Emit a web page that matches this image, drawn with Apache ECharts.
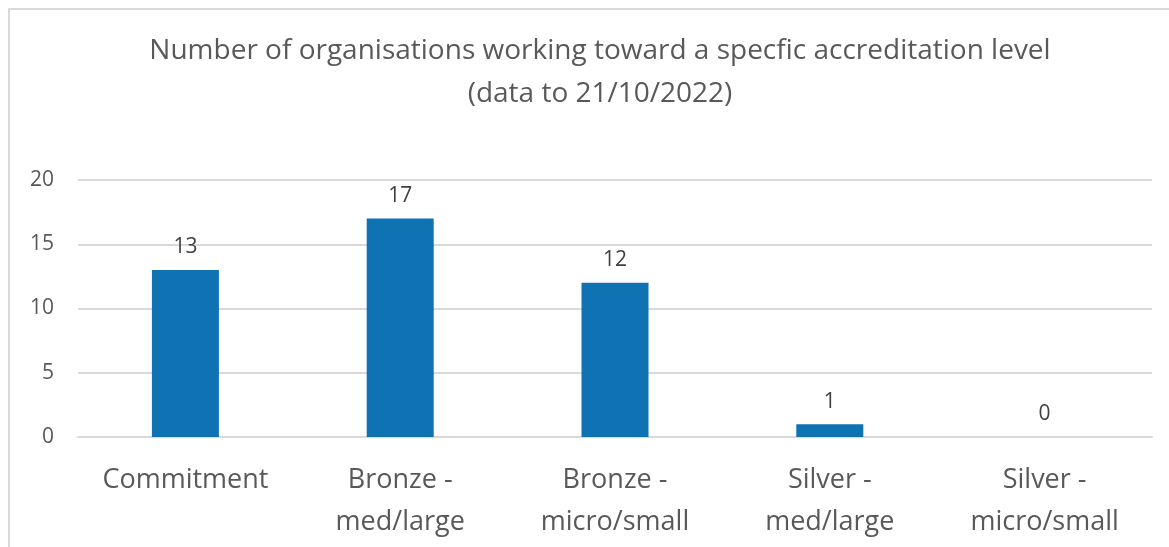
<!DOCTYPE html>
<html>
<head>
<meta charset="utf-8">
<script src="https://cdn.jsdelivr.net/npm/echarts@6/dist/echarts.min.js"></script>
<style>
  html, body { margin: 0; padding: 0; background: #fff; }
  #chart { width: 1169px; height: 547px; }
</style>
</head>
<body>
<div id="chart"></div>
<script>
var categories = ['Commitment', 'Bronze -\nmed/large', 'Bronze -\nmicro/small', 'Silver -\nmed/large', 'Silver -\nmicro/small'];
var counts = [13, 17, 12, 1, 0];
var yTicks = [0, 5, 10, 15, 20];

var chart = echarts.init(document.getElementById('chart'));

var option = {
  animation: false,
  textStyle: { fontFamily: 'Open Sans' },
  title: {
    text: 'Number of organisations working toward a specfic accreditation level\n(data to 21/10/2022)',
    left: 595,
    top: 25,
    textAlign: 'center',
    textStyle: {
      fontFamily: 'Open Sans',
      fontWeight: 'normal',
      fontSize: 28,
      lineHeight: 43,
      color: '#595959'
    }
  },
  graphic: [
    {
      type: 'rect',
      shape: { x: 9, y: 9, width: 1300, height: 700 },
      style: { fill: 'none', stroke: '#d9d9d9', lineWidth: 2 },
      silent: true
    }
  ],
  grid: {
    left: 78,
    right: 17,
    top: 180,
    bottom: 110
  },
  xAxis: {
    type: 'category',
    data: categories,
    axisTick: { show: false },
    axisLine: { lineStyle: { color: '#d9d9d9', width: 2 } },
    axisLabel: {
      color: '#595959',
      fontSize: 27,
      lineHeight: 42,
      margin: 22,
      interval: 0
    }
  },
  yAxis: {
    type: 'value',
    min: yTicks[0],
    max: yTicks[yTicks.length - 1],
    interval: 5,
    axisLine: { show: false },
    axisTick: { show: false },
    splitLine: { lineStyle: { color: '#d9d9d9', width: 2 } },
    axisLabel: {
      color: '#595959',
      fontSize: 21,
      margin: 24
    }
  },
  series: [
    {
      type: 'bar',
      data: counts,
      barWidth: 67,
      itemStyle: { color: '#0E72B3' },
      label: {
        show: true,
        position: 'top',
        distance: 12,
        color: '#404040',
        fontSize: 21
      }
    }
  ]
};

chart.setOption(option);
</script>
</body>
</html>
